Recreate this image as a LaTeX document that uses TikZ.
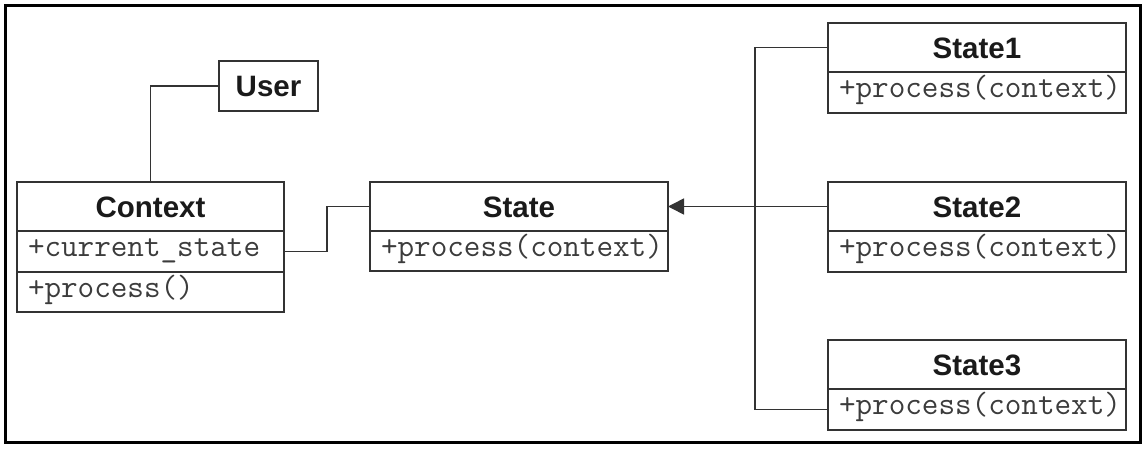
\documentclass[tikz,border=0pt]{standalone}
\usepackage{fontspec}
\setmainfont{Liberation Sans}
\usepackage{tikz}
\usetikzlibrary{positioning,arrows.meta}
\definecolor{umlline}{HTML}{333333}
\definecolor{umltext}{HTML}{1A1A1A}
\hfuzz=30pt

\begin{document}
\begin{tikzpicture}[
    x=1pt, y=-1pt,
    classhead/.style={rectangle, draw=umlline, line width=1.8pt, outer sep=0pt, minimum width=298pt, minimum height=49pt, inner sep=0pt, font=\fontsize{29.5}{31}\selectfont\bfseries, text=umltext, text height=21pt, text depth=0pt},
    classrow/.style={rectangle, draw=umlline, line width=1.8pt, outer sep=0pt, text width=276pt, minimum height=41pt, inner xsep=11pt, inner ysep=0pt, align=left, font=\fontsize{32.2}{33}\selectfont\ttfamily, text=umltext!85, text height=16pt, text depth=6pt},
    link/.style={draw=umlline, line width=1.6pt},
    arrow/.style={link, -{Triangle[length=16pt, width=16pt]}}
]
\useasboundingbox (0,0) rectangle (1146,455);

% Frame
\draw[line width=3pt] (5,5) rectangle (1140,442);

% Client side
\node[classhead, minimum width=99pt, minimum height=50pt] (user) at (268.5,86) {User};
\node[classhead, minimum width=267pt] (ctxhead) at (150.5,206.5) {Context};
\node[classrow, text width=245pt, below=0pt of ctxhead] (ctxattr) {+current\_state};
\node[classrow, text width=245pt, minimum height=40pt, below=0pt of ctxattr] (ctxop) {+process()};

% Abstract state
\node[classhead, right=86pt of ctxhead] (statehead) {State};
\node[classrow, minimum height=40pt, below=0pt of statehead] (stateop) {+process(context)};

% Concrete states
\node[classhead, right=160pt of statehead] (s2head) {State2};
\node[classrow, below=0pt of s2head] (s2op) {+process(context)};
\node[classhead] (s1head) at (977,47.5) {State1};
\node[classrow, below=0pt of s1head] (s1op) {+process(context)};
\node[classhead] (s3head) at (977,364.5) {State3};
\node[classrow, below=0pt of s3head] (s3op) {+process(context)};

% Connectors
\draw[link] (ctxhead.north) |- (user.west);
\draw[link] (ctxattr.east) -- ++(43,0) |- (statehead.west);
\draw[arrow] (s2head.west) -- (statehead.east);
\draw[link] (s1head.west) -- ++(-73,0) |- (s3op.west);

\end{tikzpicture}
\end{document}
